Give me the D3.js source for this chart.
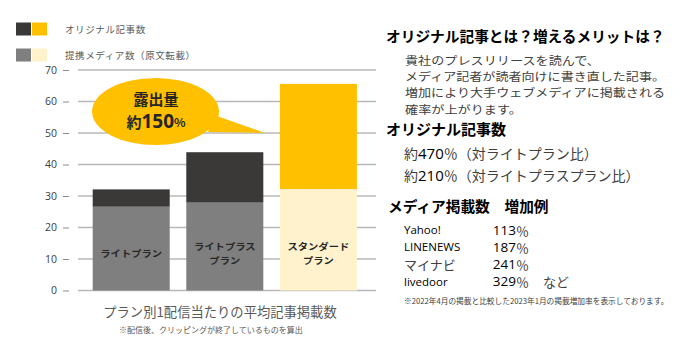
<!DOCTYPE html>
<html><head><meta charset="utf-8">
<script src="https://cdn.jsdelivr.net/npm/d3@7"></script>
<style>
html,body{margin:0;padding:0;background:#fff;}
svg{display:block;font-family:"Noto Sans CJK JP","Noto Sans",sans-serif;}
</style></head>
<body>
<svg id="c" width="700" height="342"></svg>
<script>
const categories = ["ライトプラン", "ライトプラスプラン", "スタンダードプラン"];
const barLabels = [["ライトプラン"], ["ライトプラス", "プラン"], ["スタンダード", "プラン"]];
const mediaValues = [26.6, 27.9, 32.2];      // 提携メディア数（原文転載）
const originalValues = [5.5, 16.0, 33.4];    // オリジナル記事数
const yTicks = [0, 10, 20, 30, 40, 50, 60, 70];
const legendLabels = ["オリジナル記事数", "提携メディア数（原文転載）"];
const mediaNames = ["Yahoo!", "LINENEWS", "マイナビ", "livedoor"];
const mediaRates = ["113％", "187％", "241％", "329％"];

const svg = d3.select("#c");
const y = d3.scaleLinear().domain([0, 70]).range([290.5, 70]);
const x = d3.scaleBand().domain(categories).range([78, 371.6]).paddingInner(0.177).paddingOuter(0.157);

// gridlines
svg.append("g").selectAll("line").data(yTicks).join("line")
  .attr("x1", 78).attr("x2", 376)
  .attr("y1", d => y(d)).attr("y2", d => y(d))
  .attr("stroke", "#b8b8b8").attr("stroke-width", 1.5);

// axis
const ax = svg.append("g").attr("transform", "translate(69,0)")
  .call(d3.axisLeft(y).tickValues(yTicks).tickSize(6).tickPadding(6));
ax.select(".domain").remove();
ax.selectAll(".tick line").attr("stroke", "#8c8c8c");
ax.selectAll(".tick text").attr("fill", "#404040").style("font-size", "10.5px")
  .style("font-family", "'Open Sans','Noto Sans',sans-serif");

const darkCols = ["#3b3838", "#3b3838", "#ffc000"];
const lightCols = ["#7f7f7f", "#7f7f7f", "#fff2cc"];

const bars = svg.append("g");
categories.forEach((c, i) => {
  bars.append("rect").attr("x", x(c)).attr("width", x.bandwidth())
    .attr("y", y(mediaValues[i])).attr("height", y(0) - y(mediaValues[i]))
    .attr("fill", lightCols[i]);
  bars.append("rect").attr("x", x(c)).attr("width", x.bandwidth())
    .attr("y", y(mediaValues[i] + originalValues[i])).attr("height", y(0) - y(originalValues[i]))
    .attr("fill", darkCols[i]);
  const lines = barLabels[i];
  const cy = 253.5;
  lines.forEach((t, j) => {
    svg.append("text").attr("x", x(c) + x.bandwidth() / 2)
      .attr("y", cy + (j - (lines.length - 1) / 2) * 13.2)
      .attr("text-anchor", "middle").attr("dominant-baseline", "central")
      .attr("font-weight", "bold").attr("font-size", "9px").attr("fill", "#262626")
      .attr("textLength", t.length * 10.3).attr("lengthAdjust", "spacingAndGlyphs")
      .text(t);
  });
});

// legend
const lg = svg.append("g");
[["#3b3838", "#ffc000"], ["#7f7f7f", "#fff2cc"]].forEach((cols, i) => {
  const yy = i === 0 ? 22.5 : 48.5;
  lg.append("rect").attr("x", 16).attr("y", yy).attr("width", 15).attr("height", 13).attr("fill", cols[0]);
  lg.append("rect").attr("x", 32).attr("y", yy).attr("width", 15).attr("height", 13).attr("fill", cols[1]);
  lg.append("text").attr("x", 65).attr("y", yy + 6.5).attr("dominant-baseline", "central")
    .attr("font-size", "9.5px").attr("letter-spacing", "0.6px").attr("fill", "#595959").text(legendLabels[i]);
});

// balloon
const bl = svg.append("g");
bl.append("path").attr("d", "M214,115 L265,133 L208,132 Z").attr("fill", "#ffc000");
bl.append("ellipse").attr("cx", 155.5).attr("cy", 111.5).attr("rx", 63.5).attr("ry", 33.5).attr("fill", "#ffc000");
bl.append("text").attr("x", 156).attr("y", 98.5).attr("text-anchor", "middle").attr("dominant-baseline", "central")
  .attr("font-weight", "bold").attr("font-size", "15px").attr("fill", "#262626").text("露出量");
const t150 = bl.append("text").attr("x", 156).attr("y", 121).attr("text-anchor", "middle").attr("dominant-baseline", "central")
  .attr("fill", "#262626").attr("font-weight", "bold");
t150.append("tspan").attr("font-size", "15px").text("約");
t150.append("tspan").attr("font-size", "19px").attr("font-family", "'Open Sans','Noto Sans',sans-serif").text("150");
t150.append("tspan").attr("font-size", "12px").text("%");

// axis title and note
svg.append("text").attr("x", 220).attr("y", 311).attr("text-anchor", "middle").attr("dominant-baseline", "central")
  .attr("font-size", "13.3px").attr("fill", "#595959").text("プラン別1配信当たりの平均記事掲載数");
svg.append("text").attr("x", 211).attr("y", 329).attr("text-anchor", "middle").attr("dominant-baseline", "central")
  .attr("font-size", "8px").attr("fill", "#595959").text("※配信後、クリッピングが終了しているものを算出");

// right side
const r = svg.append("g");
r.append("text").attr("x", 386).attr("y", 35).attr("dominant-baseline", "central")
  .attr("font-size", "14.7px").attr("font-weight", "bold").attr("fill", "#000").text("オリジナル記事とは？増えるメリットは？");
["貴社のプレスリリースを読んで、", "メディア記者が読者向けに書き直した記事。", "増加により大手ウェブメディアに掲載される", "確率が上がります。"]
  .forEach((t, i) => {
    r.append("text").attr("x", 405).attr("y", 59.7 + i * 16.3).attr("dominant-baseline", "central")
      .attr("font-size", "11.2px").attr("fill", "#404040")
      .attr("textLength", t.length * 13).attr("lengthAdjust", "spacingAndGlyphs").text(t);
  });
r.append("text").attr("x", 386).attr("y", 128).attr("dominant-baseline", "central")
  .attr("font-size", "15px").attr("font-weight", "bold").attr("fill", "#000").text("オリジナル記事数");
[["470", "対ライトプラン比"], ["210", "対ライトプラスプラン比"]].forEach((d, i) => {
  const t = r.append("text").attr("x", 404).attr("y", 153 + i * 22).attr("dominant-baseline", "central")
    .attr("font-size", "14px").attr("fill", "#404040");
  t.append("tspan").text("約");
  t.append("tspan").attr("fill", "#000").attr("font-size", "15px").attr("font-family", "'Open Sans','Noto Sans',sans-serif").text(d[0]);
  t.append("tspan").text("％（" + d[1] + "）");
});
r.append("text").attr("x", 388).attr("y", 205).attr("dominant-baseline", "central")
  .attr("font-size", "14.7px").attr("font-weight", "bold").attr("fill", "#000").text("メディア掲載数　増加例");
mediaNames.forEach((n, i) => {
  const yy = 229.5 + i * 17.3;
  const isJa = /[^\x00-\x7f]/.test(n);
  r.append("text").attr("x", 404).attr("y", yy).attr("dominant-baseline", "central")
    .attr("font-size", isJa ? "13px" : "11.5px").attr("fill", isJa ? "#404040" : "#000")
    .attr("font-family", isJa ? null : "'Open Sans','Noto Sans',sans-serif").text(n);
  const t = r.append("text").attr("x", 529).attr("y", yy).attr("text-anchor", "end").attr("dominant-baseline", "central");
  t.append("tspan").attr("font-size", "13.5px").attr("fill", "#000").attr("font-family", "'Open Sans','Noto Sans',sans-serif").text(mediaRates[i].replace("％", ""));
  t.append("tspan").attr("font-size", "13px").attr("fill", "#404040").text("％");
});
r.append("text").attr("x", 543).attr("y", 229.5 + 3 * 17.3).attr("dominant-baseline", "central")
  .attr("font-size", "13px").attr("fill", "#404040").text("など");
r.append("text").attr("x", 404).attr("y", 300).attr("dominant-baseline", "central")
  .attr("font-size", "7.7px").attr("fill", "#404040").text("※2022年4月の掲載と比較した2023年1月の掲載増加率を表示しております。");
</script>
</body></html>
